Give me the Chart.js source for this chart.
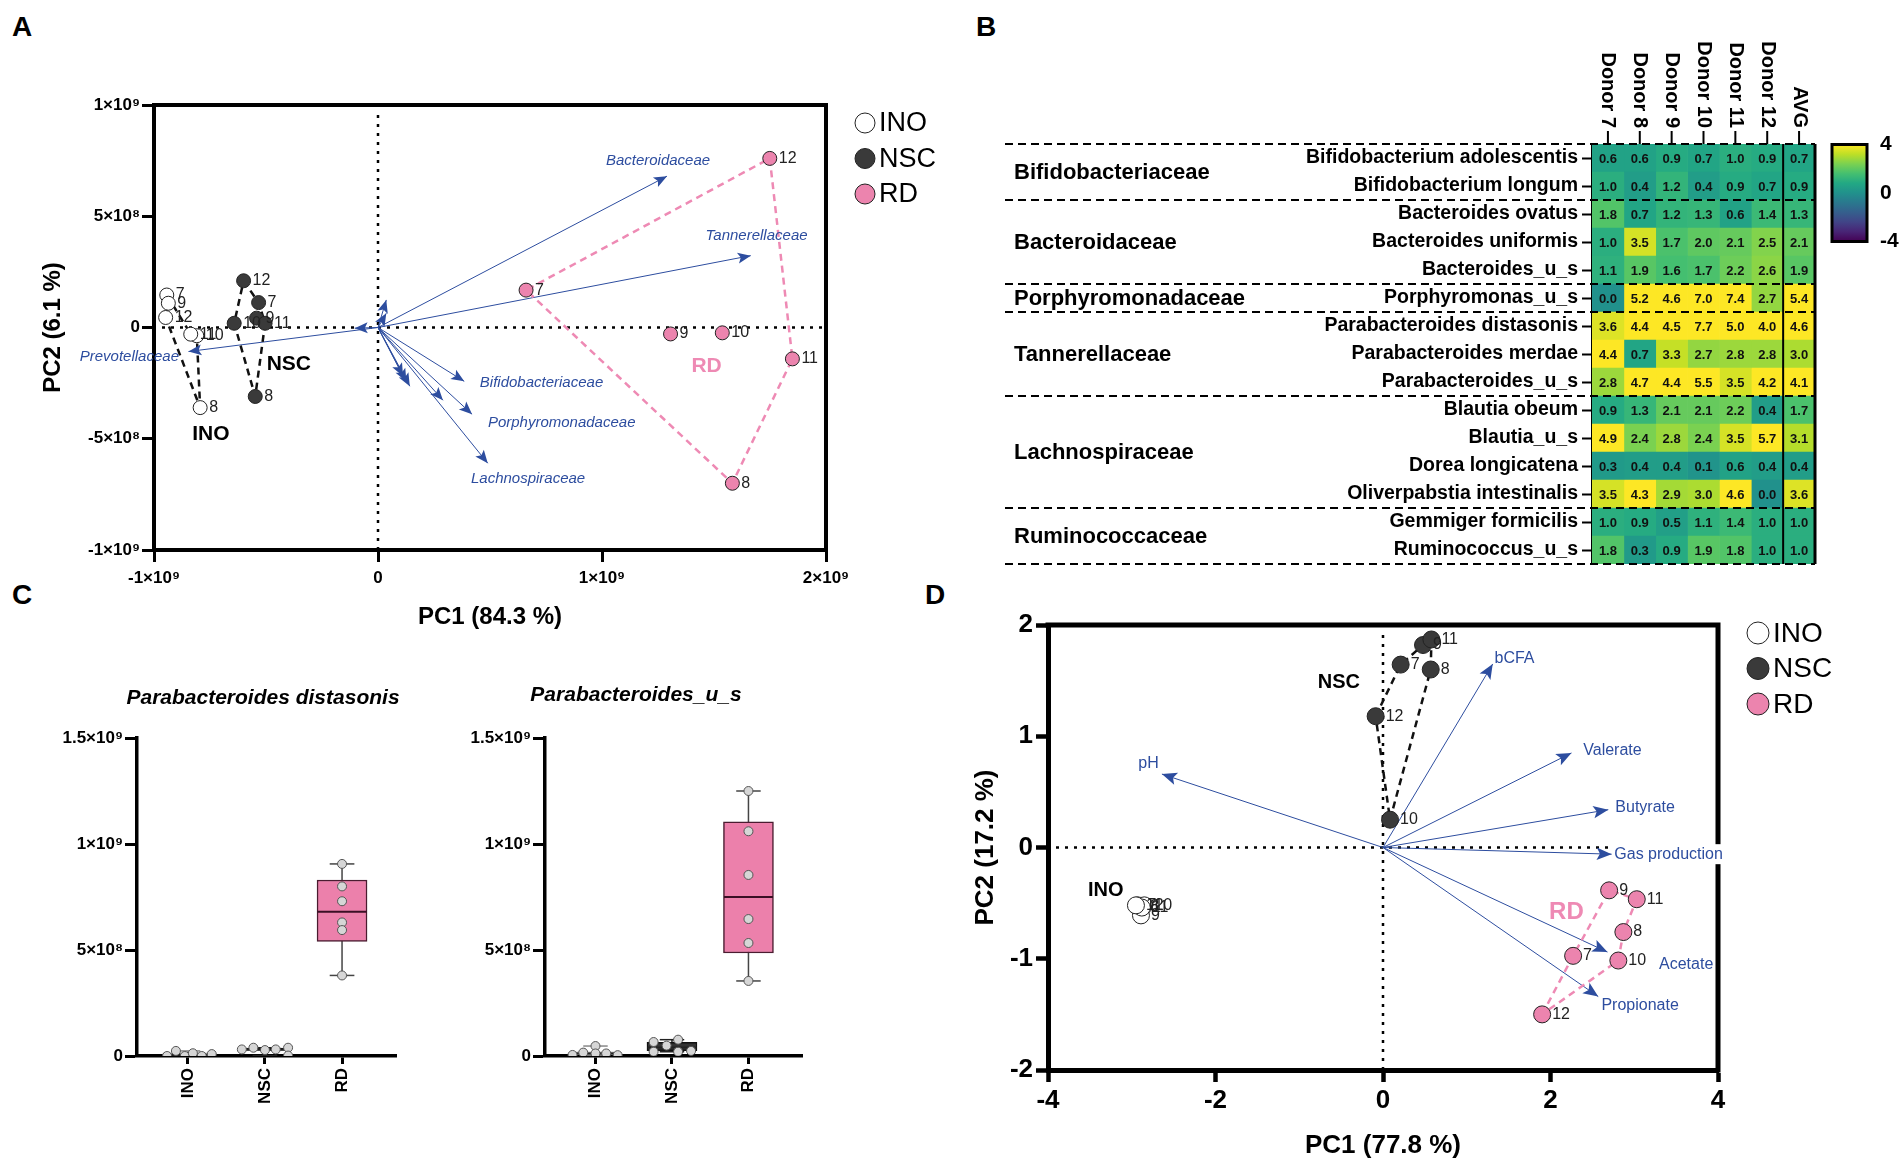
<!DOCTYPE html>
<html>
<head>
<meta charset="utf-8">
<title>PCA, heatmap and box plots</title>
<script src="https://cdn.jsdelivr.net/npm/chart.js@4.4.1/dist/chart.umd.min.js"></script>
<style>
  html, body { margin: 0; background: #fff; }
  body { position: relative; width: 1904px; height: 1167px; overflow: hidden; }
  canvas { position: absolute; }
  .tag { position: absolute; font: bold 28px "Liberation Sans", Arial, sans-serif; color: #000; }
</style>
</head>
<body>
<div class="tag" style="left:12px;top:11px">A</div>
<div class="tag" style="left:976px;top:11px">B</div>
<div class="tag" style="left:12px;top:579px">C</div>
<div class="tag" style="left:925px;top:579px">D</div>
<script>
"use strict";

// ---- panel A: PCA of family abundances ----
const donorIds = ['7', '8', '9', '10', '11', '12'];
const aInoPc1 = [-0.943e9, -0.794e9, -0.936e9, -0.809e9, -0.836e9, -0.948e9];
const aInoPc2 = [0.146e9, -0.360e9, 0.109e9, -0.037e9, -0.030e9, 0.045e9];
const aNscPc1 = [-0.533e9, -0.548e9, -0.542e9, -0.642e9, -0.504e9, -0.600e9];
const aNscPc2 = [0.112e9, -0.310e9, 0.042e9, 0.019e9, 0.019e9, 0.210e9];
const aRdPc1 = [0.661e9, 1.582e9, 1.306e9, 1.537e9, 1.850e9, 1.749e9];
const aRdPc2 = [0.168e9, -0.700e9, -0.029e9, -0.024e9, -0.141e9, 0.760e9];
const aInoHull = [0, 4, 3, 1, 5, 2, 0];
const aNscHull = [5, 0, 4, 1, 3, 5];
const aRdHull = [5, 4, 1, 0, 5];
const aLoadNames = ['Bacteroidaceae', 'Tannerellaceae', 'Prevotellaceae', 'Bifidobacteriaceae',
                    'Porphyromonadaceae', 'Lachnospiraceae'];
const aLoadPc1 = [1.29e9, 1.664e9, -0.846e9, 0.385e9, 0.42e9, 0.49e9,
                  0.037e9, 0.037e9, -0.104e9, 0.112e9, 0.142e9, 0.29e9, 0.127e9];
const aLoadPc2 = [0.68e9, 0.323e9, -0.108e9, -0.242e9, -0.39e9, -0.61e9,
                  0.124e9, 0.064e9, -0.003e9, -0.219e9, -0.264e9, -0.327e9, -0.244e9];
const aNameX = [1.25e9, 1.69e9, -1.11e9, 0.73e9, 0.82e9, 0.67e9];
const aNameY = [0.75e9, 0.41e9, -0.131e9, -0.248e9, -0.43e9, -0.68e9];

// ---- panel B: heatmap ----
const hmRows = ['Bifidobacterium adolescentis', 'Bifidobacterium longum', 'Bacteroides ovatus',
  'Bacteroides uniformis', 'Bacteroides_u_s', 'Porphyromonas_u_s', 'Parabacteroides distasonis',
  'Parabacteroides merdae', 'Parabacteroides_u_s', 'Blautia obeum', 'Blautia_u_s',
  'Dorea longicatena', 'Oliverpabstia intestinalis', 'Gemmiger formicilis', 'Ruminococcus_u_s'];
const hmCols = ['Donor 7', 'Donor 8', 'Donor 9', 'Donor 10', 'Donor 11', 'Donor 12', 'AVG'];
const hmDonor7 = [0.6, 1.0, 1.8, 1.0, 1.1, 0.0, 3.6, 4.4, 2.8, 0.9, 4.9, 0.3, 3.5, 1.0, 1.8];
const hmDonor8 = [0.6, 0.4, 0.7, 3.5, 1.9, 5.2, 4.4, 0.7, 4.7, 1.3, 2.4, 0.4, 4.3, 0.9, 0.3];
const hmDonor9 = [0.9, 1.2, 1.2, 1.7, 1.6, 4.6, 4.5, 3.3, 4.4, 2.1, 2.8, 0.4, 2.9, 0.5, 0.9];
const hmDonor10 = [0.7, 0.4, 1.3, 2.0, 1.7, 7.0, 7.7, 2.7, 5.5, 2.1, 2.4, 0.1, 3.0, 1.1, 1.9];
const hmDonor11 = [1.0, 0.9, 0.6, 2.1, 2.2, 7.4, 5.0, 2.8, 3.5, 2.2, 3.5, 0.6, 4.6, 1.4, 1.8];
const hmDonor12 = [0.9, 0.7, 1.4, 2.5, 2.6, 2.7, 4.0, 2.8, 4.2, 0.4, 5.7, 0.4, 0.0, 1.0, 1.0];
const hmAvg = [0.7, 0.9, 1.3, 2.1, 1.9, 5.4, 4.6, 3.0, 4.1, 1.7, 3.1, 0.4, 3.6, 1.0, 1.0];
const hmFamilies = ['Bifidobacteriaceae', 'Bacteroidaceae', 'Porphyromonadaceae',
                    'Tannerellaceae', 'Lachnospiraceae', 'Ruminococcaceae'];
const hmFamilyStart = [0, 2, 5, 6, 9, 13];
const hmFamilyEnd = [2, 5, 6, 9, 13, 15];
const hmScaleTicks = [-4, 0, 4];

// ---- panel C: box plots ----
const boxCats = ['INO', 'NSC', 'RD'];
const distMin = [0.000e9, 0.002e9, 0.380e9];
const distQ1 = [0.001e9, 0.026e9, 0.540e9];
const distMed = [0.005e9, 0.031e9, 0.680e9];
const distQ3 = [0.015e9, 0.037e9, 0.830e9];
const distMax = [0.024e9, 0.039e9, 0.906e9];
const distInoY = [0.000e9, 0.024e9, 0.000e9, 0.013e9, 0.000e9, 0.009e9];
const distNscY = [0.031e9, 0.039e9, 0.028e9, 0.031e9, 0.039e9, 0.002e9];
const distRdY = [0.906e9, 0.800e9, 0.730e9, 0.630e9, 0.594e9, 0.380e9];
const distInoDx = [-0.27, -0.155, -0.04, 0.065, 0.18, 0.31];
const distNscDx = [-0.30, -0.15, 0, 0.14, 0.30, 0.30];
const distRdDx = [0, 0, 0, 0, 0, 0];
const usMin = [0.004e9, 0.020e9, 0.354e9];
const usQ1 = [0.006e9, 0.025e9, 0.486e9];
const usMed = [0.012e9, 0.040e9, 0.750e9];
const usQ3 = [0.020e9, 0.064e9, 1.104e9];
const usMax = [0.047e9, 0.077e9, 1.250e9];
const usInoY = [0.005e9, 0.016e9, 0.047e9, 0.012e9, 0.012e9, 0.004e9];
const usNscY = [0.066e9, 0.049e9, 0.077e9, 0.020e9, 0.020e9, 0.024e9];
const usRdY = [1.250e9, 1.060e9, 0.854e9, 0.646e9, 0.533e9, 0.354e9];
const usInoDx = [-0.30, -0.16, 0, 0, 0.14, 0.29];
const usNscDx = [-0.24, -0.07, 0.08, -0.24, 0.08, 0.25];
const usRdDx = [0, 0, 0, 0, 0, 0];

// ---- panel D: PCA of fermentation parameters ----
const dInoPc1 = [-2.93, -2.90, -2.89, -2.85, -2.88, -2.95];
const dInoPc2 = [-0.52, -0.53, -0.61, -0.52, -0.54, -0.52];
const dNscPc1 = [0.211, 0.57, 0.478, 0.084, 0.578, -0.088];
const dNscPc2 = [1.644, 1.60, 1.82, 0.25, 1.87, 1.18];
const dRdPc1 = [2.27, 2.87, 2.70, 2.81, 3.03, 1.90];
const dRdPc2 = [-0.974, -0.76, -0.385, -1.016, -0.465, -1.50];
const dNscHull = [5, 0, 2, 4, 1, 3, 5];
const dRdHull = [5, 0, 2, 4, 1, 3, 5];
const dLoadNames = ['pH', 'bCFA', 'Valerate', 'Butyrate', 'Gas production', 'Acetate', 'Propionate'];
const dLoadPc1 = [-2.64, 1.31, 2.25, 2.69, 2.73, 2.68, 2.57];
const dLoadPc2 = [0.66, 1.65, 0.85, 0.34, -0.06, -0.94, -1.34];
const dNameX = [-2.80, 1.57, 2.74, 3.13, 3.41, 3.62, 3.07];
const dNameY = [0.75, 1.70, 0.875, 0.36, -0.06, -1.05, -1.42];

// ---- styles ----
const FONT = '"Liberation Sans", Arial, Helvetica, sans-serif';
const BLUE = '#2d4d9f';
const PINK = '#ec84ae';
const PINK_LINE = '#ee8ab4';
const DARK = '#3a3a3a';
const viridisStops = ['#440154', '#482475', '#414487', '#355f8d', '#2a788e', '#21918c',
                      '#22a884', '#44bf70', '#7ad151', '#bddf26', '#fde725'];

Chart.defaults.font.family = FONT;
Chart.defaults.color = '#000';
Chart.defaults.animation = false;
Chart.defaults.plugins.legend.display = false;
Chart.defaults.plugins.tooltip.enabled = false;

const SUP = {'0': '⁰', '1': '¹', '2': '²', '3': '³', '4': '⁴', '5': '⁵', '6': '⁶', '7': '⁷', '8': '⁸', '9': '⁹', '-': '⁻'};

function sciLabel(v) {
  if (Math.abs(v) < 1) return '0';
  const e = Math.floor(Math.log10(Math.abs(v)) + 1e-9);
  const m = Math.round(v / Math.pow(10, e) * 10) / 10;
  return m + '×10' + String(e).split('').map(c => SUP[c]).join('');
}

function bold(size) {
  return {size: size, weight: 'bold', family: FONT};
}

function hexToRgb(h) {
  return [1, 3, 5].map(i => parseInt(h.substr(i, 2), 16));
}

function viridis(v) {
  let t = (v - hmScaleTicks[0]) / (hmScaleTicks[2] - hmScaleTicks[0]);
  t = Math.max(0, Math.min(1, t)) * 10;
  const i = Math.min(9, Math.floor(t));
  const f = t - i;
  const a = hexToRgb(viridisStops[i]), b = hexToRgb(viridisStops[i + 1]);
  const c = a.map((x, k) => Math.round(x + (b[k] - x) * f));
  return 'rgb(' + c.join(',') + ')';
}

function place(left, top, w, h) {
  const c = document.createElement('canvas');
  c.width = w;
  c.height = h;
  c.style.left = left + 'px';
  c.style.top = top + 'px';
  c.style.width = w + 'px';
  c.style.height = h + 'px';
  document.body.appendChild(c);
  return c;
}

function pts(xs, ys) {
  return xs.map((x, i) => ({x: x, y: ys[i]}));
}

function hullPts(xs, ys, order) {
  return order.map(i => ({x: xs[i], y: ys[i]}));
}

// ---- plugins ----
function framePlugin(width, allSides) {
  return {
    id: 'frame',
    afterDraw(chart) {
      const {ctx, chartArea: a} = chart;
      ctx.save();
      ctx.strokeStyle = '#000';
      ctx.lineWidth = width;
      ctx.beginPath();
      if (allSides) {
        ctx.rect(a.left, a.top, a.right - a.left, a.bottom - a.top);
      } else {
        ctx.moveTo(a.left - width / 2, a.top);
        ctx.lineTo(a.right, a.top);
        ctx.lineTo(a.right, a.bottom + width / 2);
      }
      ctx.stroke();
      ctx.restore();
    }
  };
}

function zeroPlugin(dash, width) {
  return {
    id: 'zeroLines',
    beforeDatasetsDraw(chart) {
      const {ctx, chartArea: a, scales} = chart;
      const x0 = scales.x.getPixelForValue(0);
      const y0 = scales.y.getPixelForValue(0);
      ctx.save();
      ctx.strokeStyle = '#000';
      ctx.lineWidth = width;
      ctx.setLineDash(dash);
      ctx.beginPath();
      ctx.moveTo(x0, a.top + 10);
      ctx.lineTo(x0, a.bottom);
      ctx.moveTo(a.left + 8, y0);
      ctx.lineTo(a.right, y0);
      ctx.stroke();
      ctx.restore();
    }
  };
}

const arrowPlugin = {
  id: 'arrowHeads',
  afterDatasetsDraw(chart) {
    const ctx = chart.ctx;
    chart.data.datasets.forEach((ds, i) => {
      if (!ds.headSize) return;
      const [p0, p1] = chart.getDatasetMeta(i).data;
      const ang = Math.atan2(p1.y - p0.y, p1.x - p0.x);
      const L = ds.headSize;
      ctx.save();
      ctx.translate(p1.x, p1.y);
      ctx.rotate(ang);
      ctx.fillStyle = ds.borderColor;
      ctx.beginPath();
      ctx.moveTo(0, 0);
      ctx.lineTo(-L, -L * 0.42);
      ctx.lineTo(-L * 0.78, 0);
      ctx.lineTo(-L, L * 0.42);
      ctx.closePath();
      ctx.fill();
      ctx.restore();
    });
  }
};

function tagPlugin(font, dx) {
  return {
    id: 'pointTags',
    afterDatasetsDraw(chart) {
      const ctx = chart.ctx;
      ctx.save();
      ctx.font = font;
      ctx.fillStyle = '#222';
      ctx.textAlign = 'left';
      ctx.textBaseline = 'middle';
      chart.data.datasets.forEach((ds, i) => {
        if (!ds.tags) return;
        chart.getDatasetMeta(i).data.forEach((p, k) => ctx.fillText(ds.tags[k], p.x + dx, p.y));
      });
      ctx.restore();
    }
  };
}

function notesPlugin(items) {
  return {
    id: 'notes',
    afterDraw(chart) {
      const {ctx, scales} = chart;
      items.forEach(n => {
        const px = n.px ? n.x : scales.x.getPixelForValue(n.x);
        const py = n.px ? n.y : scales.y.getPixelForValue(n.y);
        ctx.save();
        ctx.font = n.font;
        ctx.textAlign = n.align || 'center';
        ctx.textBaseline = 'middle';
        if (n.bg) {
          const w = ctx.measureText(n.text).width;
          ctx.fillStyle = n.bg;
          ctx.fillRect(px - w / 2 - 2, py - 10, w + 4, 20);
        }
        ctx.fillStyle = n.color || '#000';
        ctx.fillText(n.text, px, py);
        ctx.restore();
      });
    }
  };
}

function legendPlugin(o) {
  return {
    id: 'dotLegend',
    afterDraw(chart) {
      const ctx = chart.ctx;
      ctx.save();
      ctx.font = o.font;
      ctx.textBaseline = 'middle';
      ctx.textAlign = 'left';
      o.items.forEach((it, i) => {
        const cy = o.y + i * o.gap;
        ctx.beginPath();
        ctx.arc(o.x, cy, o.r, 0, Math.PI * 2);
        ctx.fillStyle = it.fill;
        ctx.fill();
        ctx.lineWidth = 1;
        ctx.strokeStyle = '#222';
        ctx.stroke();
        ctx.fillStyle = '#000';
        ctx.fillText(it.label, o.x + o.r + 4, cy + 1);
      });
      ctx.restore();
    }
  };
}

const groupLegend = [
  {label: 'INO', fill: '#ffffff'},
  {label: 'NSC', fill: DARK},
  {label: 'RD', fill: PINK}
];

function scatterSet(xs, ys, fill, r) {
  return {
    type: 'scatter', data: pts(xs, ys), tags: donorIds,
    pointRadius: r, pointBackgroundColor: fill, pointBorderColor: '#222', pointBorderWidth: 1, order: 0
  };
}

function hullSet(xs, ys, order, color) {
  return {
    type: 'scatter', showLine: true, data: hullPts(xs, ys, order), borderColor: color,
    borderWidth: 2.5, borderDash: [7, 5], pointRadius: 0, order: 2
  };
}

function arrowSets(xs, ys, head) {
  return xs.map((x, i) => ({
    type: 'scatter', showLine: true, data: [{x: 0, y: 0}, {x: x, y: ys[i]}],
    borderColor: BLUE, borderWidth: 1, pointRadius: 0, headSize: head, order: 3
  }));
}

function axisStyle(font, tickLen, tickW, borderW) {
  return {
    grid: {display: true, drawOnChartArea: false, drawTicks: true, tickLength: tickLen, tickWidth: tickW, tickColor: '#000'},
    border: {display: true, width: borderW, color: '#000'},
    ticks: {font: font, color: '#000'}
  };
}

function withAxis(base, extra) {
  const out = Object.assign({}, base, extra);
  out.ticks = Object.assign({}, base.ticks, extra.ticks || {});
  return out;
}

// ---- panel A ----
(function () {
  const ax = axisStyle(bold(17), 12, 3, 4);
  const notes = aLoadNames.map((t, i) => ({text: t, x: aNameX[i], y: aNameY[i], font: 'italic 15px ' + FONT, color: BLUE}));
  notes.push({text: 'INO', x: -0.746e9, y: -0.478e9, font: 'bold 21px ' + FONT});
  notes.push({text: 'NSC', x: -0.398e9, y: -0.163e9, font: 'bold 21px ' + FONT});
  notes.push({text: 'RD', x: 1.467e9, y: -0.173e9, font: 'bold 21px ' + FONT, color: PINK_LINE});

  new Chart(place(0, 60, 1000, 600), {
    type: 'scatter',
    data: {
      datasets: [].concat(
        arrowSets(aLoadPc1, aLoadPc2, 13),
        [hullSet(aInoPc1, aInoPc2, aInoHull, '#111'),
         hullSet(aNscPc1, aNscPc2, aNscHull, '#111'),
         hullSet(aRdPc1, aRdPc2, aRdHull, PINK_LINE),
         scatterSet(aInoPc1, aInoPc2, '#ffffff', 7),
         scatterSet(aNscPc1, aNscPc2, DARK, 7),
         scatterSet(aRdPc1, aRdPc2, PINK, 7)])
    },
    options: {
      responsive: false,
      layout: {padding: {left: 35, right: 174, top: 45, bottom: 24}},
      scales: {
        x: withAxis(ax, {
          type: 'linear', min: -1e9, max: 2e9,
          ticks: {stepSize: 1e9, callback: sciLabel, padding: 6, maxRotation: 0},
          title: {display: true, text: 'PC1 (84.3 %)', font: bold(24), color: '#000'},
          afterFit: s => { s.height = 86; }
        }),
        y: withAxis(ax, {
          type: 'linear', min: -1e9, max: 1e9,
          ticks: {stepSize: 5e8, callback: sciLabel, padding: 2},
          title: {display: true, text: 'PC2 (6.1 %)', font: bold(24), color: '#000'},
          afterFit: s => { s.width = 119; }
        })
      }
    },
    plugins: [zeroPlugin([3, 6], 2.5), arrowPlugin, tagPlugin('16px ' + FONT, 9), framePlugin(4, false),
              notesPlugin(notes),
              legendPlugin({x: 865, y: 63, gap: 35.5, r: 10, font: '27px ' + FONT, items: groupLegend})]
  });
})();

// ---- panel B ----
(function () {
  const table = [hmDonor7, hmDonor8, hmDonor9, hmDonor10, hmDonor11, hmDonor12, hmAvg];
  const heatPlugin = {
    id: 'heatDecor',
    afterDatasetsDraw(chart) {
      const {ctx, chartArea: a, scales: {x, y}} = chart;
      const rowH = (a.bottom - a.top) / hmRows.length;
      ctx.save();
      // cell values
      ctx.font = 'bold 13px ' + FONT;
      ctx.fillStyle = '#111';
      ctx.textAlign = 'center';
      ctx.textBaseline = 'middle';
      table.forEach((col, j) => col.forEach((v, i) => {
        ctx.fillText(v.toFixed(1), x.getPixelForValue(j + 0.5), y.getPixelForValue(i) + 1);
      }));
      // AVG divider and right edge
      ctx.strokeStyle = '#000';
      ctx.lineWidth = 2;
      ctx.beginPath();
      ctx.moveTo(x.getPixelForValue(6), a.top);
      ctx.lineTo(x.getPixelForValue(6), a.bottom);
      ctx.stroke();
      ctx.lineWidth = 3;
      ctx.beginPath();
      ctx.moveTo(a.right, a.top);
      ctx.lineTo(a.right, a.bottom);
      ctx.stroke();
      // family separators
      ctx.lineWidth = 2;
      ctx.setLineDash([8, 5]);
      const breaks = [0].concat(hmFamilyEnd);
      breaks.forEach(r => {
        const yy = a.top + r * rowH;
        ctx.beginPath();
        ctx.moveTo(25, yy);
        ctx.lineTo(a.right, yy);
        ctx.stroke();
      });
      ctx.setLineDash([]);
      // family labels
      ctx.font = 'bold 22px ' + FONT;
      ctx.fillStyle = '#000';
      ctx.textAlign = 'left';
      hmFamilies.forEach((f, k) => {
        const yy = a.top + (hmFamilyStart[k] + hmFamilyEnd[k]) / 2 * rowH;
        ctx.fillText(f, 34, yy + 1);
      });
      // column headers (read top to bottom)
      ctx.font = 'bold 20px ' + FONT;
      ctx.lineWidth = 2;
      hmCols.forEach((c, j) => {
        const cx = x.getPixelForValue(j + 0.5);
        ctx.beginPath();
        ctx.moveTo(cx, a.top - 13);
        ctx.lineTo(cx, a.top);
        ctx.stroke();
        ctx.save();
        ctx.translate(cx, a.top - 16);
        ctx.rotate(Math.PI / 2);
        ctx.textAlign = 'right';
        ctx.textBaseline = 'middle';
        ctx.fillText(c, 0, 0);
        ctx.restore();
      });
      ctx.restore();
    }
  };

  new Chart(place(980, 0, 924, 600), {
    type: 'bar',
    data: {
      labels: hmRows,
      datasets: table.map((col, j) => ({
        data: hmRows.map(() => [j, j + 1]),
        backgroundColor: col.map(viridis),
        borderWidth: 0,
        barPercentage: 1,
        categoryPercentage: 1,
        grouped: false
      }))
    },
    options: {
      indexAxis: 'y',
      responsive: false,
      layout: {padding: {left: 0, right: 89, top: 144, bottom: 36}},
      scales: {
        x: {type: 'linear', display: false, min: 0, max: 7},
        y: {
          type: 'category', offset: true,
          ticks: {autoSkip: false, font: bold(19.5), color: '#000', padding: 4},
          grid: {display: true, drawOnChartArea: false, offset: false, tickLength: 10, tickWidth: 2, tickColor: '#000'},
          border: {display: true, width: 2, color: '#000'},
          afterFit: s => { s.width = 612; }
        }
      }
    },
    plugins: [heatPlugin]
  });

  // colour scale
  new Chart(place(1820, 130, 84, 126), {
    type: 'bar',
    data: {
      labels: [''],
      datasets: [{
        data: [[hmScaleTicks[0], hmScaleTicks[2]]],
        backgroundColor: c => {
          const a = c.chart.chartArea;
          if (!a) return viridisStops[5];
          const g = c.chart.ctx.createLinearGradient(0, a.bottom, 0, a.top);
          viridisStops.forEach((s, i) => g.addColorStop(i / 10, s));
          return g;
        },
        borderWidth: 0, barPercentage: 1, categoryPercentage: 1
      }]
    },
    options: {
      responsive: false,
      layout: {padding: {left: 12, right: 0, top: 0, bottom: 0}},
      scales: {
        x: {display: false},
        y: {
          position: 'right', min: hmScaleTicks[0], max: hmScaleTicks[2],
          ticks: {stepSize: 4, font: bold(21), color: '#000', padding: 2},
          grid: {display: true, drawOnChartArea: false, drawTicks: true, tickLength: 11, tickColor: 'rgba(0,0,0,0)'},
          border: {display: false},
          afterFit: s => { s.width = 37; }
        }
      }
    },
    plugins: [framePlugin(3, true)]
  });
})();

// ---- panel C ----
function segSet(data, color, width, order) {
  return {type: 'scatter', showLine: true, data: data, borderColor: color, borderWidth: width, pointRadius: 0, order: order};
}

function boxChart(canvas, o) {
  const ds = [];
  const whisk = ['#888', '#222', '#444'];
  boxCats.forEach((c, g) => {
    const cx = g + 1;
    ds.push(segSet([{x: cx, y: o.min[g]}, {x: cx, y: o.max[g]}], whisk[g], 1.5, 4));
    ds.push(segSet([{x: cx - 0.16, y: o.min[g]}, {x: cx + 0.16, y: o.min[g]}], whisk[g], 1.5, 4));
    ds.push(segSet([{x: cx - 0.16, y: o.max[g]}, {x: cx + 0.16, y: o.max[g]}], whisk[g], 1.5, 4));
    ds.push(segSet([{x: cx - 0.32, y: o.med[g]}, {x: cx + 0.32, y: o.med[g]}], g === 2 ? '#3b0f24' : '#222', 2, 1));
    ds.push({
      type: 'scatter', data: o.dx[g].map((d, k) => ({x: cx + d, y: o.ys[g][k]})),
      pointRadius: 4.5, pointBackgroundColor: '#d6d6d6', pointBorderColor: '#555', pointBorderWidth: 1, order: 0
    });
  });
  ds.push({
    type: 'bar', data: boxCats.map((c, g) => ({x: g + 1, y: [o.q1[g], o.q3[g]]})),
    backgroundColor: ['#ffffff', '#333333', '#ec80ab'], borderColor: ['#999', '#111', '#4a1c30'],
    borderWidth: 1.5, borderSkipped: false, barThickness: 50, order: 2
  });
  const ax = axisStyle(bold(17), 12, 3, 3.5);
  new Chart(canvas, {
    type: 'bar',
    data: {datasets: ds},
    options: {
      responsive: false,
      layout: {padding: {left: 0, right: o.padRight, top: 98, bottom: 41}},
      scales: {
        x: withAxis(ax, {
          type: 'linear', min: 0.34, max: 3.7, offset: false,
          grid: {display: true, drawOnChartArea: false, offset: false, tickLength: 8, tickWidth: 3, tickColor: '#000'},
          afterBuildTicks: s => { s.ticks = [1, 2, 3].map(v => ({value: v})); },
          ticks: {callback: v => boxCats[v - 1], minRotation: 90, maxRotation: 90, padding: 4, autoSkip: false},
          afterFit: s => { s.height = 70; }
        }),
        y: withAxis(ax, {
          type: 'linear', min: 0, max: 1.5e9,
          ticks: {stepSize: 5e8, callback: sciLabel, padding: 2},
          afterFit: s => { s.width = o.yWidth; }
        })
      }
    },
    plugins: [notesPlugin([{text: o.title, x: o.titleX, y: o.titleY, px: true, font: 'italic bold 21px ' + FONT}])]
  });
}

boxChart(place(0, 640, 450, 527), {
  min: distMin, q1: distQ1, med: distMed, q3: distQ3, max: distMax,
  ys: [distInoY, distNscY, distRdY], dx: [distInoDx, distNscDx, distRdDx],
  title: 'Parabacteroides distasonis', titleX: 263, titleY: 58, yWidth: 137, padRight: 54
});
boxChart(place(450, 640, 454, 527), {
  min: usMin, q1: usQ1, med: usMed, q3: usQ3, max: usMax,
  ys: [usInoY, usNscY, usRdY], dx: [usInoDx, usNscDx, usRdDx],
  title: 'Parabacteroides_u_s', titleX: 186, titleY: 55, yWidth: 95, padRight: 102
});

// ---- panel D ----
(function () {
  const ax = axisStyle(bold(26), 12, 4.5, 5);
  const notes = dLoadNames.map((t, i) => ({
    text: t, x: dNameX[i], y: dNameY[i], font: '16px ' + FONT, color: BLUE, bg: i === 4 ? '#fff' : null
  }));
  notes.push({text: 'INO', x: -3.31, y: -0.39, font: 'bold 20px ' + FONT});
  notes.push({text: 'NSC', x: -0.526, y: 1.48, font: 'bold 20px ' + FONT});
  notes.push({text: 'RD', x: 2.19, y: -0.58, font: 'bold 24px ' + FONT, color: PINK_LINE});

  new Chart(place(930, 590, 974, 577), {
    type: 'scatter',
    data: {
      datasets: [].concat(
        arrowSets(dLoadPc1, dLoadPc2, 15),
        [hullSet(dNscPc1, dNscPc2, dNscHull, '#111'),
         hullSet(dRdPc1, dRdPc2, dRdHull, PINK_LINE),
         scatterSet(dInoPc1, dInoPc2, '#ffffff', 8.5),
         scatterSet(dNscPc1, dNscPc2, DARK, 8.5),
         scatterSet(dRdPc1, dRdPc2, PINK, 8.5)])
    },
    options: {
      responsive: false,
      layout: {padding: {left: 36, right: 186, top: 35, bottom: 2}},
      scales: {
        x: withAxis(ax, {
          type: 'linear', min: -4, max: 4,
          ticks: {stepSize: 2, padding: 3, maxRotation: 0},
          title: {display: true, text: 'PC1 (77.8 %)', font: bold(26), color: '#000'},
          afterFit: s => { s.height = 95; }
        }),
        y: withAxis(ax, {
          type: 'linear', min: -2, max: 2,
          ticks: {stepSize: 1, padding: 3},
          title: {display: true, text: 'PC2 (17.2 %)', font: bold(26), color: '#000'},
          afterFit: s => { s.width = 82; }
        })
      }
    },
    plugins: [zeroPlugin([3, 6], 2.5), arrowPlugin, tagPlugin('16px ' + FONT, 10), framePlugin(5, false),
              notesPlugin(notes),
              legendPlugin({x: 828, y: 43, gap: 35.5, r: 11, font: '28px ' + FONT, items: groupLegend})]
  });
})();
</script>
</body>
</html>
